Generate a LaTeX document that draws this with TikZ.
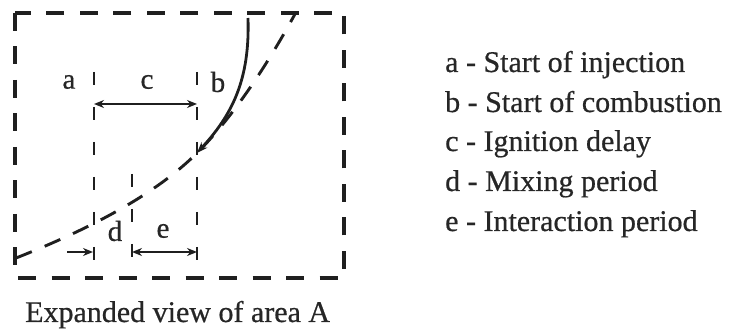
\documentclass[tikz,border=0pt]{standalone}
\usepackage{fontspec}
\setmainfont{Liberation Serif}
\newfontfamily\reffont[FakeBold=0.6]{Liberation Serif}
\usetikzlibrary{arrows.meta}
\begin{document}
\begin{tikzpicture}[x=1pt,y=-1pt,
  ink/.style={draw=black!88},
  outerbox/.style={ink,line width=3.5pt,dash pattern=on 18pt off 15.5pt},
  guide/.style={ink,line width=2.9pt,dash pattern=on 13pt off 22pt},
  hcurve/.style={ink,line width=2.9pt,dash pattern=on 17pt off 14pt},
  dim/.style={ink,line width=2.4pt,{Stealth[length=10pt,width=8pt]}-{Stealth[length=10pt,width=8pt]}},
  dimone/.style={ink,line width=2.4pt,-{Stealth[length=10pt,width=8pt]}},
  lbl/.style={font=\reffont\fontsize{29}{34}\selectfont,text=black!85,inner sep=0pt},
  legend/.style={font=\reffont\fontsize{30}{36}\selectfont,text=black!85,anchor=base west,inner sep=0pt}]
\useasboundingbox (0,0) rectangle (734,336);
% outer box
\coordinate (tl) at (15,13);
\coordinate (br) at (344,278);
\draw[outerbox] (tl) rectangle (br);
% guide lines
\coordinate (aT) at (94,72);  \coordinate (aB) at (94,260);
\coordinate (bT) at (197,72); \coordinate (bB) at (197,260);
\coordinate (dT) at (132,174); \coordinate (dB) at (132,258);
\draw[guide] (aT) -- (aB);
\draw[guide] (bT) -- (bB);
\draw[guide] (dT) -- (dB);
% dashed heat release curve
\coordinate (h0) at (16,258);
\coordinate (h1) at (197,153);
\coordinate (h2) at (295,14);
\draw[hcurve] (h0) .. controls (100,225) and (160,190) .. (h1)
  .. controls (235,115) and (270,60) .. (h2);
% solid curve b
\coordinate (s0) at (248,18);
\draw[ink,line width=2.8pt,-{Stealth[length=11pt,width=8pt]}] (s0) .. controls (250,80) and (232,115) .. (h1);
% dimension arrows
\coordinate (c1) at (94,104); \coordinate (c2) at (197,104);
\draw[dim] (c1) -- (c2);
\coordinate (e1) at (132,252); \coordinate (e2) at (197,252);
\draw[dim] (e1) -- (e2);
\coordinate (d1) at (67,252); \coordinate (d2) at (93,252);
\draw[dimone] (d1) -- (d2);
% labels
\node[lbl] (la) at (69,82) {a};
\node[lbl] (lc) at (147,82) {c};
\node[lbl] (lb) at (218,82) {b};
\node[lbl] (ld) at (115,231) {d};
\node[lbl] (le) at (163,231) {e};
% legend
\node[legend] (g1) at (445,72) {a - Start of injection};
\node[legend] (g2) at (445,112) {b - Start of combustion};
\node[legend] (g3) at (445,151) {c - Ignition delay};
\node[legend] (g4) at (445,191) {d - Mixing period};
\node[legend] (g5) at (445,231) {e - Interaction period};
% caption
\node[legend] (cap) at (25,322) {Expanded view of area A};
\end{tikzpicture}
\end{document}
